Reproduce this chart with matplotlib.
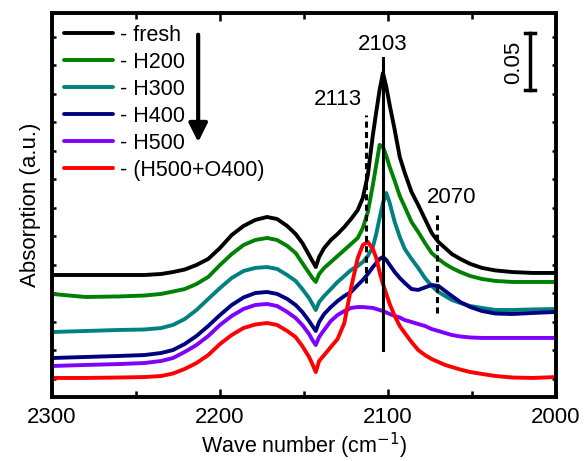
import matplotlib
matplotlib.use("Agg")
import matplotlib.pyplot as plt
from matplotlib.ticker import MultipleLocator

plt.rcParams['font.family'] = ['Liberation Sans', 'DejaVu Sans']

# wave numbers (cm-1) shared by all spectra
wavenumber = [2300, 2280, 2260, 2245, 2235, 2228, 2221, 2214, 2207, 2200,
              2193, 2186, 2179, 2172, 2166, 2160, 2155, 2151, 2147, 2145,
              2143, 2141, 2138, 2134, 2130, 2126, 2122, 2118, 2115, 2112,
              2109, 2107, 2105, 2103, 2101, 2099, 2096, 2093, 2090, 2086,
              2082, 2078, 2074, 2070, 2066, 2062, 2057, 2051, 2044, 2036,
              2026, 2014, 2000]

fresh = [0.1070, 0.1070, 0.1070, 0.1070, 0.1079, 0.1096, 0.1118, 0.1158, 0.1211, 0.1307,
         0.1421, 0.1500, 0.1553, 0.1579, 0.1561, 0.1500, 0.1430, 0.1351, 0.1246, 0.1193,
         0.1140, 0.1228, 0.1307, 0.1377, 0.1430, 0.1491, 0.1561, 0.1640, 0.1746, 0.1947,
         0.2298, 0.2500, 0.2693, 0.2842, 0.2719, 0.2561, 0.2342, 0.2105, 0.1965, 0.1798,
         0.1684, 0.1561, 0.1439, 0.1360, 0.1307, 0.1254, 0.1211, 0.1167, 0.1132, 0.1110,
         0.1096, 0.1088, 0.1088]
h200 = [0.0904, 0.0877, 0.0882, 0.0890, 0.0904, 0.0925, 0.0947, 0.0991, 0.1053, 0.1158,
        0.1254, 0.1333, 0.1377, 0.1395, 0.1377, 0.1325, 0.1263, 0.1175, 0.1088, 0.1044,
        0.1009, 0.1079, 0.1132, 0.1184, 0.1237, 0.1289, 0.1342, 0.1395, 0.1482, 0.1623,
        0.1860, 0.2035, 0.2211, 0.2193, 0.2114, 0.2018, 0.1895, 0.1763, 0.1667, 0.1535,
        0.1447, 0.1351, 0.1263, 0.1211, 0.1167, 0.1132, 0.1096, 0.1061, 0.1035, 0.1018,
        0.1009, 0.1009, 0.1009]
h300 = [0.0570, 0.0579, 0.0588, 0.0592, 0.0605, 0.0632, 0.0684, 0.0763, 0.0860, 0.0956,
        0.1044, 0.1105, 0.1132, 0.1140, 0.1123, 0.1070, 0.1018, 0.0947, 0.0868, 0.0816,
        0.0763, 0.0833, 0.0886, 0.0947, 0.1009, 0.1061, 0.1114, 0.1149, 0.1184, 0.1237,
        0.1316, 0.1430, 0.1570, 0.1702, 0.1789, 0.1702, 0.1535, 0.1404, 0.1298, 0.1211,
        0.1132, 0.1044, 0.0974, 0.0921, 0.0886, 0.0851, 0.0825, 0.0798, 0.0781, 0.0763,
        0.0763, 0.0768, 0.0772]
h400 = [0.0342, 0.0351, 0.0360, 0.0368, 0.0386, 0.0412, 0.0465, 0.0535, 0.0623, 0.0719,
        0.0807, 0.0873, 0.0912, 0.0921, 0.0904, 0.0860, 0.0807, 0.0746, 0.0667, 0.0623,
        0.0579, 0.0658, 0.0728, 0.0789, 0.0842, 0.0886, 0.0921, 0.0982, 0.1026, 0.1079,
        0.1140, 0.1175, 0.1211, 0.1228, 0.1202, 0.1158, 0.1096, 0.1044, 0.1000, 0.0947,
        0.0939, 0.0961, 0.0982, 0.0974, 0.0930, 0.0886, 0.0833, 0.0789, 0.0754, 0.0732,
        0.0728, 0.0737, 0.0746]
h500 = [0.0272, 0.0281, 0.0289, 0.0298, 0.0316, 0.0342, 0.0395, 0.0456, 0.0535, 0.0632,
        0.0711, 0.0772, 0.0807, 0.0816, 0.0798, 0.0746, 0.0693, 0.0632, 0.0553, 0.0500,
        0.0456, 0.0526, 0.0588, 0.0667, 0.0719, 0.0754, 0.0781, 0.0789, 0.0789, 0.0785,
        0.0781, 0.0772, 0.0763, 0.0754, 0.0741, 0.0728, 0.0711, 0.0697, 0.0675, 0.0658,
        0.0640, 0.0623, 0.0596, 0.0579, 0.0561, 0.0544, 0.0531, 0.0522, 0.0518, 0.0518,
        0.0518, 0.0518, 0.0518]
h500_o400 = [0.0167, 0.0167, 0.0171, 0.0175, 0.0184, 0.0206, 0.0246, 0.0298, 0.0368, 0.0465,
             0.0544, 0.0605, 0.0636, 0.0649, 0.0632, 0.0579, 0.0526, 0.0447, 0.0351, 0.0289,
             0.0219, 0.0316, 0.0368, 0.0439, 0.0509, 0.0649, 0.0956, 0.1219, 0.1333, 0.1360,
             0.1298, 0.1219, 0.1096, 0.0991, 0.0904, 0.0816, 0.0711, 0.0623, 0.0561, 0.0482,
             0.0412, 0.0368, 0.0333, 0.0307, 0.0281, 0.0263, 0.0241, 0.0219, 0.0202, 0.0184,
             0.0171, 0.0167, 0.0175]

labels = ["- fresh", "- H200", "- H300", "- H400", "- H500", "- (H500+O400)"]
colors = ["#000000", "#008000", "#008080", "#000080", "#8000FF", "#FF0000"]

fig = plt.figure(figsize=(5.84, 4.61), dpi=100)
ax = fig.add_axes([52 / 584, 64 / 461, 504 / 584, 384 / 461])

for y, lab, c in zip([fresh, h200, h300, h400, h500, h500_o400], labels, colors):
    ax.plot(wavenumber, y, color=c, lw=2.8, label=lab,
            solid_joinstyle='round', solid_capstyle='round')

# marker lines for band positions
ax.plot([2103, 2103], [0.0412, 0.2974], color='k', lw=2.2)
ax.plot([2113, 2113], [0.1000, 0.2474], color='k', lw=2.2, ls=(0, (2, 1.4)))
ax.plot([2071, 2071], [0.0737, 0.1596], color='k', lw=2.2, ls=(0, (2, 1.4)))
ax.text(2103, 0.3096, "2103", ha='center', va='center', fontsize=16)
ax.text(2130, 0.2605, "2113", ha='center', va='center', fontsize=16)
ax.text(2062, 0.1754, "2070", ha='center', va='center', fontsize=16)

# scale bar
ax.plot([2015.5, 2015.5], [0.2693, 0.3193], color='k', lw=2.5)
ax.plot([2018.5, 2012.5], [0.3193, 0.3193], color='k', lw=2.5)
ax.plot([2018.5, 2012.5], [0.2693, 0.2693], color='k', lw=2.5)
ax.text(2025.5, 0.2939, "0.05", rotation=90, ha='center', va='center', fontsize=16)

# arrow
ax.annotate('', xy=(2213, 0.2211), xytext=(2213, 0.3202),
            arrowprops=dict(arrowstyle='-|>', lw=3, color='k', mutation_scale=28))

ax.set_xlim(2300, 2000)
ax.set_ylim(0, 0.3368)
ax.xaxis.set_major_locator(MultipleLocator(100))
ax.xaxis.set_minor_locator(MultipleLocator(50))
ax.yaxis.set_major_locator(MultipleLocator(0.025, offset=0.0158))
ax.tick_params(axis='x', which='both', direction='in', top=True, width=1.8, labelsize=16, pad=7)
ax.tick_params(axis='x', which='major', length=6)
ax.tick_params(axis='x', which='minor', length=4)
ax.tick_params(axis='y', which='both', direction='in', right=True, width=1.8, length=3, labelleft=False)
for s in ax.spines.values():
    s.set_linewidth(2.8)

ax.set_xlabel("Wave number (cm$^{-1}$)", fontsize=15.5, labelpad=2)
ax.set_ylabel("Absorption (a.u.)", fontsize=16, labelpad=8)

ax.legend(loc='upper left', bbox_to_anchor=(0.0, 1.0), frameon=False, fontsize=15.5,
          handlelength=2.3, handletextpad=0.3, labelspacing=0.28, borderaxespad=0.4,
          borderpad=0.15)

fig.savefig("out.png", dpi=100)
